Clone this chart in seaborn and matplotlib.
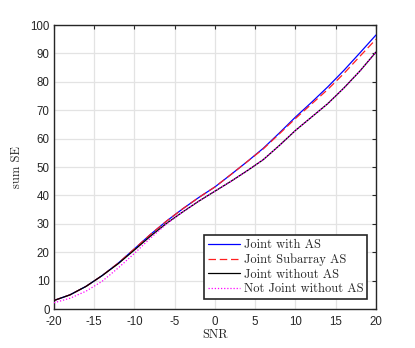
import numpy as np
import pandas as pd
import seaborn as sns
from matplotlib import pyplot as plt

# SNR grid and sum spectral efficiency
snr = list(range(-20, 21, 2))
joint_as = [3, 5, 8, 11.8, 16.2, 21.2, 26.3, 31, 35.3, 39.3, 43,
            47.4, 51.9, 56.6, 62, 67.6, 72.8, 78.2, 84, 90.2, 96.5]
joint_sub = [3, 5, 8, 11.8, 16.2, 21.2, 26.3, 31, 35.3, 39.3, 43,
             47.4, 51.9, 56.4, 61.7, 67.1, 72.2, 77.3, 82.9, 89, 95]
joint_noas = [3, 5, 8, 11.8, 16, 20.8, 25.7, 30.2, 34.2, 38, 41.5,
              45, 48.7, 52.6, 57.6, 62.9, 67.6, 72.3, 77.8, 83.8, 90.5]
notjoint_noas = [2.2, 3.8, 6.3, 9.8, 14.5, 19.6, 25, 30, 34.2, 38, 41.5,
                 45, 48.7, 52.6, 57.6, 62.9, 67.6, 72.3, 77.8, 83.8, 90.5]

names = ["Joint with AS", "Joint Subarray AS", "Joint without AS",
         "Not Joint without AS"]
series = [joint_as, joint_sub, joint_noas, notjoint_noas]
df = pd.DataFrame({"SNR": snr * 4,
                   "SE": sum(series, []),
                   "Scheme": np.repeat(names, len(snr))})

sns.set_style("white")
plt.rcParams["font.family"] = ["Liberation Sans", "DejaVu Sans"]
plt.rcParams["axes.unicode_minus"] = False

fig = plt.figure(figsize=(4.15, 3.48), dpi=100)
ax = fig.add_axes([0.130, 0.112, 0.776, 0.816])

colors = {"Joint with AS": "#0000ff", "Joint Subarray AS": "#ff2020",
          "Joint without AS": "#000000", "Not Joint without AS": "#ff00ff"}
styles = {"Joint with AS": "-", "Joint Subarray AS": (0, (6, 3)),
          "Joint without AS": "-", "Not Joint without AS": (0, (1, 1.5))}

for name in names:
    sub = df[df["Scheme"] == name]
    sns.lineplot(data=sub, x="SNR", y="SE", ax=ax, color=colors[name],
                 linestyle=styles[name], linewidth=0.9, label=name,
                 zorder=3 if name != "Not Joint without AS" else 4)

ax.set_xlim(-20, 20)
ax.set_ylim(0, 100)
ax.set_xticks(range(-20, 21, 5))
ax.set_yticks(range(0, 101, 10))
ax.tick_params(direction="in", length=3, width=0.8, labelsize=8.3,
               top=True, right=True, colors="#262626")
ax.tick_params(axis="x", pad=5)
ax.tick_params(axis="y", pad=3)
ax.grid(True, color="#e3e3e3", linewidth=0.9)
ax.set_axisbelow(True)
for sp in ax.spines.values():
    sp.set_color("#262626")
    sp.set_linewidth(1.0)

ax.set_xlabel("SNR", family="cmr10", fontsize=9, labelpad=1)
ax.set_ylabel("sum SE", family="cmr10", fontsize=9, labelpad=5)

leg = ax.legend(loc="lower right", bbox_to_anchor=(0.973, 0.035),
                prop={"family": "cmr10", "size": 9}, fancybox=False,
                framealpha=1, edgecolor="#262626", borderpad=0.3,
                handlelength=2.6, handletextpad=0.3, labelspacing=0.2,
                borderaxespad=0)
leg.get_frame().set_linewidth(1.2)

fig.savefig("out.png", dpi=100)
